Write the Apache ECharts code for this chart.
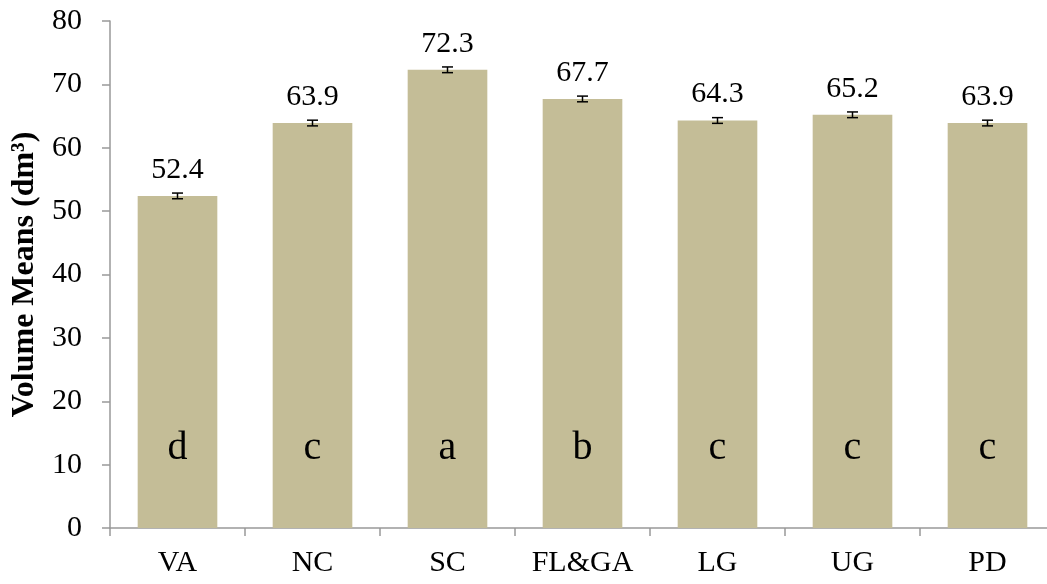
<!DOCTYPE html>
<html><head><meta charset="utf-8">
<script src="https://cdn.jsdelivr.net/npm/echarts@6/dist/echarts.min.js"></script>
<style>html,body{margin:0;padding:0;background:#fff}#c{width:1047px;height:584px}</style>
</head><body><div id="c"></div>
<script>
const categories = ['VA','NC','SC','FL&GA','LG','UG','PD'];
const means = [52.4, 63.9, 72.3, 67.7, 64.3, 65.2, 63.9];
const errors = [0.45, 0.45, 0.45, 0.45, 0.45, 0.45, 0.45];
const groups = ['d','c','a','b','c','c','c'];
const yTicks = [0,10,20,30,40,50,60,70,80];

const font = '"Liberation Serif","Times New Roman",serif';
const chart = echarts.init(document.getElementById('c'));
chart.setOption({
  animation: false,
  grid: {left: 110, top: 21, height: 507, width: 945, containLabel: false, outerBoundsMode: 'none'},
  xAxis: {
    type: 'category', data: categories,
    axisLine: {lineStyle: {color: '#999', width: 1.5}},
    axisTick: {show: true, length: 8, lineStyle: {color: '#999', width: 1.5}},
    axisLabel: {color: '#000', fontFamily: font, fontSize: 30, margin: 20, interval: 0, hideOverlap: false}
  },
  yAxis: {
    type: 'value', min: yTicks[0], max: yTicks[yTicks.length-1], interval: 10,
    name: 'Volume Means (dm³)', nameLocation: 'middle', nameGap: 67,
    nameTextStyle: {color: '#000', fontFamily: font, fontSize: 32, fontWeight: 'bold'},
    axisLine: {show: true, lineStyle: {color: '#999', width: 1.5}},
    axisTick: {show: true, length: 8, lineStyle: {color: '#999', width: 1.5}},
    splitLine: {show: false},
    axisLabel: {color: '#000', fontFamily: font, fontSize: 30, margin: 28}
  },
  series: [
    {
      type: 'bar', data: means, barWidth: '59%',
      itemStyle: {color: '#c4bd97'},
      label: {show: true, position: 'top', distance: 11, color: '#000', fontFamily: font, fontSize: 30,
        formatter: p => p.value.toFixed(1)}
    },
    {
      type: 'bar', data: means, barWidth: '59%', barGap: '-100%',
      itemStyle: {color: 'rgba(0,0,0,0)'},
      label: {show: true, position: 'insideBottom', distance: 60, color: '#000', fontFamily: font, fontSize: 40,
        formatter: p => groups[p.dataIndex]},
      z: 3
    },
    {
      type: 'custom',
      data: means.map((m,i)=>[i, m - errors[i], m + errors[i]]),
      renderItem: function(params, api){
        const x = api.value(0);
        const lo = api.coord([x, api.value(1)]);
        const hi = api.coord([x, api.value(2)]);
        const w = 5.5;
        const st = {stroke: '#000', lineWidth: 1.5};
        return {type: 'group', children: [
          {type: 'line', shape: {x1: lo[0], y1: lo[1], x2: hi[0], y2: hi[1]}, style: st},
          {type: 'line', shape: {x1: lo[0]-w, y1: lo[1], x2: lo[0]+w, y2: lo[1]}, style: st},
          {type: 'line', shape: {x1: hi[0]-w, y1: hi[1], x2: hi[0]+w, y2: hi[1]}, style: st}
        ]};
      },
      z: 5
    }
  ]
});
</script></body></html>
